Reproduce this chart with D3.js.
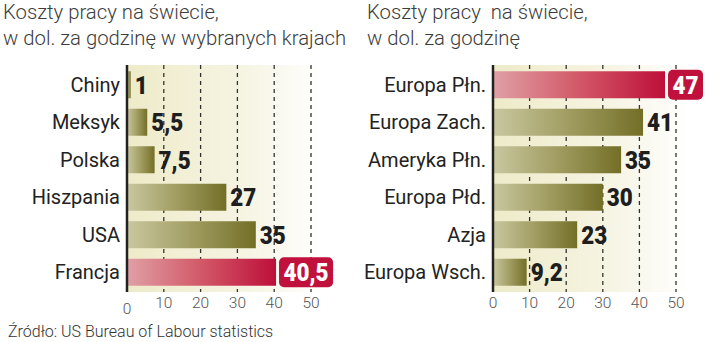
<!DOCTYPE html>
<html><head><meta charset="utf-8">
<script src="https://cdn.jsdelivr.net/npm/d3@7"></script>
<style>
body{margin:0;background:#fff;}
svg{display:block;}
</style></head>
<body>
<svg id="chart" width="720" height="342"></svg>
<script>
// ---- data ----
const leftTitle = ["Koszty pracy na świecie,", "w dol. za godzinę w wybranych krajach"];
const leftCategories = ["Chiny", "Meksyk", "Polska", "Hiszpania", "USA", "Francja"];
const leftValues = [1, 5.5, 7.5, 27, 35, 40.5];
const rightTitle = ["Koszty pracy  na świecie,", "w dol. za godzinę"];
const rightCategories = ["Europa Płn.", "Europa Zach.", "Ameryka Płn.", "Europa Płd.", "Azja", "Europa Wsch."];
const rightValues = [47, 41, 35, 30, 23, 9.2];
const tickValues = [0, 10, 20, 30, 40, 50];
const sourceText = "Źródło: US Bureau of Labour statistics";

const locale = d3.formatLocale({decimal: ",", thousands: " ", grouping: [3], currency: ["", ""]});
const fmt = v => Number.isInteger(v) ? String(v) : locale.format(".1f")(v);

const svg = d3.select("#chart");
const defs = svg.append("defs");

function grad(id, stops) {
  const g = defs.append("linearGradient").attr("id", id).attr("x1", 0).attr("x2", 1).attr("y1", 0).attr("y2", 0);
  stops.forEach(s => g.append("stop").attr("offset", s[0]).attr("stop-color", s[1]));
}
grad("olive", [[0, "#c9c7a0"], [0.5, "#a19d62"], [1, "#736f27"]]);
grad("red", [[0, "#e0a0a6"], [0.5, "#d25867"], [1, "#bd0f3a"]]);
grad("bg", [[0, "#eeebc9"], [0.6, "#f6f4e3"], [1, "#ffffff"]]);

const labelFont = "Roboto, 'Liberation Sans', sans-serif";
const valueFont = "Roboto, 'Liberation Sans', sans-serif";
const valueSX = 0.88;

function panel(cfg) {
  const g = svg.append("g");
  const x = d3.scaleLinear().domain([0, 50]).range(cfg.xr);
  const y = d3.scaleBand().domain(cfg.categories).range([65, 292]).paddingInner(0.28).paddingOuter(0.167);
  const maxV = d3.max(cfg.values);

  // titles
  g.append("g").selectAll("text").data(cfg.title).join("text")
    .attr("x", cfg.titleX).attr("y", (d, i) => 19 + i * 26)
    .attr("font-family", labelFont).attr("font-weight", 300)
    .attr("font-size", 20.3).attr("fill", "#3c3c3c")
    .style("white-space", "pre").text(d => d);

  // background
  g.append("rect").attr("x", x(0)).attr("y", 65).attr("width", x(50) - x(0) + 12).attr("height", 227)
    .attr("fill", "url(#bg)");

  // grid
  g.append("g").selectAll("line").data(tickValues.filter(t => t > 0)).join("line")
    .attr("x1", d => x(d)).attr("x2", d => x(d)).attr("y1", 65).attr("y2", 292)
    .attr("stroke", "#333").attr("stroke-width", 1.3).attr("stroke-dasharray", "4,4");

  // bars
  const data = cfg.categories.map((c, i) => ({c, v: cfg.values[i]}));
  g.append("g").selectAll("rect").data(data).join("rect")
    .attr("x", x(0)).attr("y", d => y(d.c))
    .attr("width", d => x(d.v) - x(0)).attr("height", y.bandwidth())
    .attr("fill", d => d.v === maxV ? "url(#red)" : "url(#olive)");

  // axis line
  g.append("line").attr("x1", x(0)).attr("x2", x(0)).attr("y1", 65).attr("y2", 292)
    .attr("stroke", "#222").attr("stroke-width", 2.5);

  // category labels
  g.append("g").selectAll("text").data(data).join("text")
    .attr("x", x(0) - 7).attr("y", d => y(d.c) + y.bandwidth() / 2)
    .attr("dy", "0.36em").attr("text-anchor", "end")
    .attr("font-family", labelFont).attr("font-size", 20).attr("fill", "#222")
    .text(d => d.c);

  // value labels (slightly condensed, tall)
  function valueText(px, cy, fill, txt) {
    return g.append("text")
      .attr("transform", `translate(${px},${cy}) scale(${valueSX},1)`)
      .attr("dy", "0.36em")
      .attr("font-family", valueFont).attr("font-weight", 900).attr("font-size", 25.5)
      .attr("fill", fill).text(txt);
  }
  data.forEach(d => {
    const cy = y(d.c) + y.bandwidth() / 2;
    if (d.v === maxV) {
      const bx = x(d.v) + 3;
      const t = valueText(bx + 4.5, cy, "#fff", fmt(d.v));
      const w = t.node().getComputedTextLength() * valueSX;
      g.insert("rect", () => t.node()).attr("x", bx).attr("y", cy - 15).attr("width", w + 9).attr("height", 30)
        .attr("rx", 5).attr("fill", "#c0113c");
    } else {
      valueText(x(d.v) + 4, cy, "#1e1e1e", fmt(d.v));
    }
  });

  // tick labels
  g.append("g").selectAll("text").data(tickValues).join("text")
    .attr("x", d => x(d)).attr("y", d => 308 + (d === 0 ? cfg.zeroShift : 0))
    .attr("text-anchor", "middle")
    .attr("font-family", labelFont).attr("font-weight", 300).attr("font-size", 15.5).attr("fill", "#555")
    .text(d => d);
}

panel({title: leftTitle, titleX: 3, categories: leftCategories, values: leftValues, xr: [127, 311], zeroShift: 6});
panel({title: rightTitle, titleX: 367, categories: rightCategories, values: rightValues, xr: [493, 676], zeroShift: 0});

svg.append("text").attr("x", 8).attr("y", 337)
  .attr("font-family", labelFont).attr("font-weight", 300).attr("font-size", 16).attr("fill", "#333")
  .text(sourceText);
</script>
</body></html>
